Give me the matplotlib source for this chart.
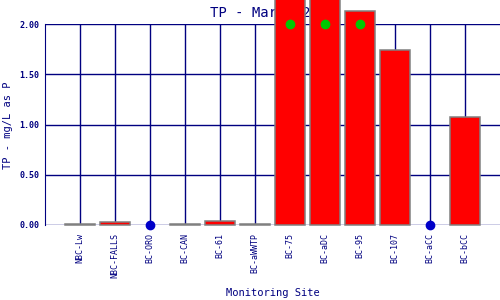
import matplotlib
matplotlib.use("Agg")
import matplotlib.pyplot as plt
import numpy as np

sites = ["NBC-Lw", "NBC-FALLS", "BC-ORO", "BC-CAN", "BC-61", "BC-aWWTP",
         "BC-75", "BC-aDC", "BC-95", "BC-107", "BC-aCC", "BC-bCC"]
tp_values = [0.01, 0.03, np.nan, 0.005, 0.04, 0.005, 2.6, 2.7, 2.13, 1.74, np.nan, 1.07]
nondetect = [np.nan, np.nan, 0.0, np.nan, np.nan, np.nan, np.nan, np.nan, np.nan, np.nan, 0.0, np.nan]
standard_marks = [np.nan, np.nan, np.nan, np.nan, np.nan, np.nan, 2.0, 2.0, 2.0, np.nan, np.nan, np.nan]
yticks = [0.0, 0.5, 1.0, 1.5, 2.0]
ytick_labels = ["0.00", "0.50", "1.00", "1.50", "2.00"]

navy = "#000080"
font = "DejaVu Sans Mono"

fig = plt.figure(figsize=(5, 3), dpi=100)
ax = fig.add_axes([0.09, 0.25, 0.91, 0.67])
x = np.arange(len(sites))

ax.set_xlim(-1, 12)
ax.set_ylim(0, 2.0)

for yv in yticks:
    ax.axhline(yv, color=navy, lw=1, zorder=1)
for xv in x:
    ax.axvline(xv, color=navy, lw=1, zorder=1)

ax.bar(x, tp_values, width=0.86, color="#ff0000", edgecolor="#808080",
       linewidth=1.1, zorder=5, clip_on=False)
ax.plot(x, nondetect, "o", color="#0000c8", ms=6, zorder=6, clip_on=False)
ax.plot(x, standard_marks, "o", color="#00c800", ms=6, zorder=7, clip_on=False)

for s in ax.spines.values():
    s.set_visible(False)
ax.spines["left"].set_visible(True)
ax.spines["left"].set_color(navy)

ax.set_xticks(x)
ax.set_xticklabels(sites, rotation=90, fontsize=6, color=navy, family=font)
ax.set_yticks(yticks)
ax.set_yticklabels(ytick_labels, fontsize=6, color=navy, family=font, fontweight="bold")
ax.tick_params(axis="x", length=0, pad=6)
ax.tick_params(axis="y", length=0, pad=4)

fig.text(0.545, 0.023, "Monitoring Site", fontsize=7.5, color=navy, family=font,
         ha="center", va="center")
fig.text(0.016, 0.583, "TP - mg/L as P", fontsize=7.5, color=navy, family=font,
         ha="center", va="center", rotation=90)
t = ax.set_title("TP - March 2019", fontsize=10, color=navy, family=font, pad=5)
t.set_zorder(2)

fig.savefig("out.png", dpi=100)
